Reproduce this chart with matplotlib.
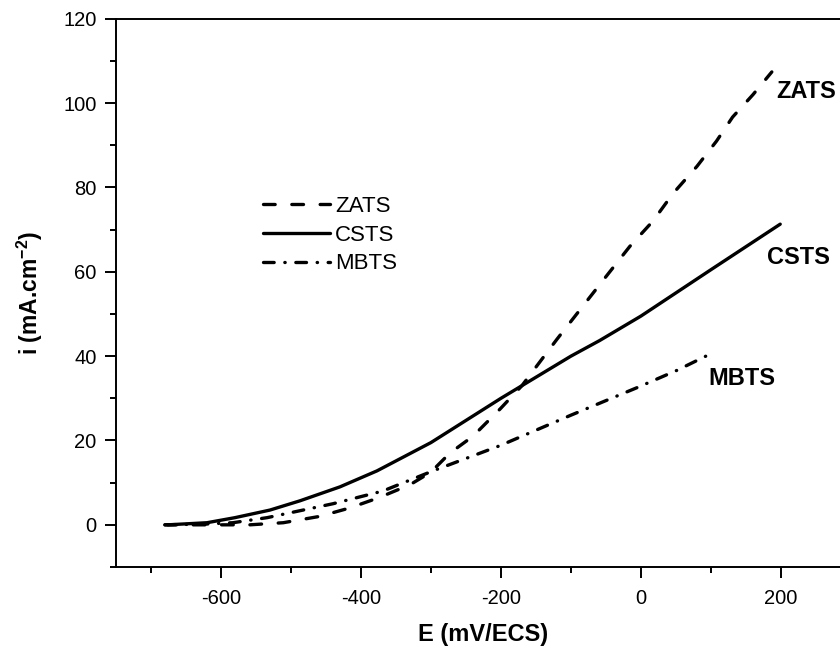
import matplotlib
matplotlib.use("Agg")
import matplotlib.pyplot as plt
from matplotlib.ticker import MultipleLocator

plt.rcParams['font.family'] = ['Liberation Sans', 'DejaVu Sans']
plt.rcParams['mathtext.fontset'] = 'custom'
plt.rcParams['mathtext.rm'] = 'Liberation Sans'
plt.rcParams['mathtext.bf'] = 'Liberation Sans:bold'
plt.rcParams['axes.unicode_minus'] = False

# ---- data ----
csts_E = [-676, -620, -580, -530, -487, -430, -377, -300, -200, -100, -59, 0, 100, 199]
csts_i = [0, 0.5, 1.7, 3.5, 5.7, 9.0, 12.8, 19.5, 30.0, 40.0, 43.7, 49.5, 60.5, 71.3]

zats_E = [-680, -620, -559, -511, -459, -416, -375, -330, -300, -273, -240, -201, -170,
          -120, -54, -16, 17, 46, 80, 108, 131, 160, 187]
zats_i = [0, 0, 0, 0.5, 2.0, 4.0, 6.4, 9.5, 12.5, 17.0, 21.0, 27.5, 33.0,
          44.0, 58.0, 66.0, 72.0, 78.6, 85.0, 91.0, 96.7, 102.0, 107.4]

mbts_E = [-680, -620, -583, -534, -440, -369, -297, -201, -100, -6, 51, 94]
mbts_i = [0, 0.2, 0.5, 1.7, 5.0, 8.0, 12.8, 18.8, 26.0, 32.5, 36.6, 40.1]

labels = ['ZATS', 'CSTS', 'MBTS']
annot_E = [193, 180, 96]
annot_i = [102.8, 63.4, 34.7]

fig = plt.figure(figsize=(8.4, 6.48), dpi=100)
ax = fig.add_axes([0.138, 0.125, 1.013 - 0.138, 0.971 - 0.125])

lw = 2.4
ax.plot(zats_E, zats_i, color='black', lw=lw, linestyle=(0, (3.5, 5.0)),
        dash_capstyle='round', label=labels[0])
ax.plot(csts_E, csts_i, color='black', lw=lw, linestyle='-',
        solid_capstyle='round', label=labels[1])
ax.plot(mbts_E, mbts_i, color='black', lw=lw, linestyle=(0, (3.2, 3.2, 0.1, 3.2)),
        dash_capstyle='round', label=labels[2])

for t, xe, yi in zip(labels, annot_E, annot_i):
    ax.text(xe, yi, t, fontsize=17, fontweight='bold', va='center', ha='left')

ax.set_xlim(-750, 300)
ax.set_ylim(-10, 120)
ax.xaxis.set_major_locator(MultipleLocator(200))
ax.xaxis.set_minor_locator(MultipleLocator(100))
ax.yaxis.set_major_locator(MultipleLocator(20))
ax.yaxis.set_minor_locator(MultipleLocator(10))

for s in ['left', 'bottom', 'top']:
    ax.spines[s].set_linewidth(1.4)
ax.spines['right'].set_visible(False)
ax.tick_params(axis='both', which='major', direction='out', length=8, width=1.4, labelsize=14.5)
ax.tick_params(axis='both', which='minor', direction='out', length=4, width=1.4)
ax.tick_params(axis='x', which='major', pad=8)
ax.tick_params(axis='y', which='major', pad=6)

ax.set_xlabel('E (mV/ECS)', fontsize=17, fontweight='bold', labelpad=11)
ax.set_ylabel(r'i (mA.cm$^{\mathbf{-2}}$)', fontsize=16.5, fontweight='bold', labelpad=13)

leg = ax.legend(loc='upper left', bbox_to_anchor=(0.2, 0.677), frameon=False,
                borderaxespad=0, borderpad=0,
                fontsize=16, handlelength=3.0, handletextpad=0.25, labelspacing=0.35)

fig.savefig('out.png', dpi=100)
